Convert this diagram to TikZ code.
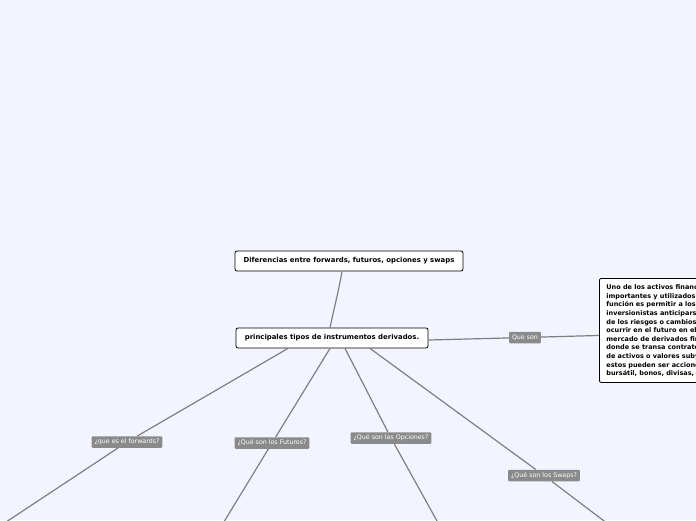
\documentclass[tikz,border=0pt]{standalone}
\usepackage{fontspec}
\setmainfont{DejaVu Sans}
\usetikzlibrary{positioning, calc}

\definecolor{canvas}{HTML}{F2F5FF}
\definecolor{linkgray}{HTML}{7F7F7F}
\definecolor{labelgray}{HTML}{8A8A8A}

\begin{document}
\begin{tikzpicture}[x=1pt, y=-1pt,
      topic/.style={rectangle, draw, thick, rounded corners=2pt, fill=white, align=center,
                    font=\fontsize{6.9}{8}\selectfont\bfseries, minimum height=20pt, inner sep=2pt},
      note/.style={rectangle, draw, thick, rounded corners=2pt, fill=white, align=left,
                   font=\fontsize{6.5}{8.6}\selectfont\bfseries, inner xsep=7pt, inner ysep=6pt},
      tag/.style={rectangle, fill=labelgray, rounded corners=1pt, text=white,
                  font=\fontsize{6.3}{7}\selectfont, inner xsep=3pt, inner ysep=1.5pt, minimum height=11.5pt},
      link/.style={draw=linkgray, line width=1.2pt}
    ]
    \useasboundingbox (0,0) rectangle (696,520);
    \clip (0,0) rectangle (696,520);
    \fill[canvas] (0,0) rectangle (696,520);

    % central topics
    \node[topic, minimum width=228pt] (title) at (349,261) {Diferencias entre forwards, futuros, opciones y swaps};
    \node[topic, minimum width=192pt] (main) at (332,338) {principales tipos de instrumentos derivados.};

    % note on the right (runs past the edge)
    \node[note, anchor=north west] (info) at (599,278) {Uno de los activos financieros más\\
      importantes y utilizados cuya\\
      función es permitir a los\\
      inversionistas anticiparse a\\
      de los riesgos o cambios que pueden\\
      ocurrir en el futuro en el\\
      mercado de derivados financieros\\
      donde se transa contratos\\
      de activos o valores subyacentes,\\
      estos pueden ser acciones, índice\\
      bursátil, bonos, divisas, etc.};

    % branch labels
    \node[tag] (que) at (525,337.5) {Que son};
    \node[tag] (fwd) at (127,442) {¿que es el forwards?};
    \node[tag] (fut) at (272,443) {¿Qué son los Futuros?};
    \node[tag] (opc) at (391,438) {¿Qué son las Opciones?};
    \node[tag] (swp) at (544,475.5) {¿Qué son los Swaps?};

    % loose ends below the frame
    \coordinate (fwdend) at (-6,530);
    \coordinate (futend) at (219,530);
    \coordinate (opcend) at (442,530);
    \coordinate (swpend) at (616,530);

    \draw[link] (title.south) ++(-7,0) to[out=-100, in=78] ($(main.north)+(-2,0)$);
    \draw[link] ($(main.east)+(0,2)$) -- (que) -- ($(info.west)+(0,5)$);
    \draw[link] ($(main.south)+(-44,0)$) -- (fwd) -- (fwdend);
    \draw[link] ($(main.south)+(-2,0)$) -- (fut) -- (futend);
    \draw[link] ($(main.south)+(13,0)$) -- (opc) -- (opcend);
    \draw[link] ($(main.south)+(38,0)$) -- (swp) -- (swpend);
  \end{tikzpicture}
\end{document}
